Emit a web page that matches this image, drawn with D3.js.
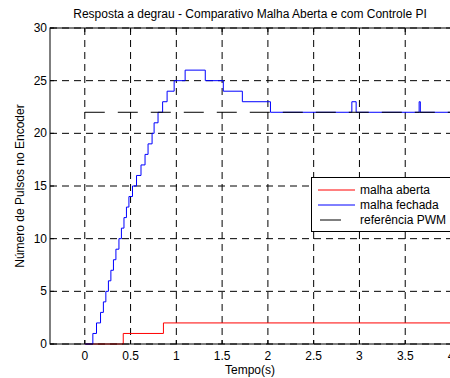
<!DOCTYPE html>
<html>
<head>
<meta charset="utf-8">
<script src="https://cdn.jsdelivr.net/npm/d3@7"></script>
<style>
  body { margin: 0; background: #fff; }
  svg { display: block; font-family: "Liberation Sans", Arial, sans-serif; }
</style>
</head>
<body>
<div id="container"></div>
<script>
const width = 450;
const height = 378;

// open loop response (step after)
const openT = [0, 0.42, 0.859, 4];
const openV = [0, 1, 2, 2];

// closed loop response with PI (step after)
const closedT = [0, 0.088, 0.128, 0.172, 0.203, 0.230, 0.258, 0.285, 0.313, 0.340, 0.373,
  0.400, 0.428, 0.455, 0.482, 0.521, 0.565, 0.614, 0.658, 0.691, 0.735,
  0.757, 0.800, 0.850, 0.899, 0.976, 1.096, 1.316, 1.513, 1.721, 2.028,
  2.917, 2.964, 3.652, 3.665, 4];
const closedV = [0, 1, 2, 3, 4, 5, 6, 7, 8, 9, 10,
  11, 12, 13, 14, 15, 16, 17, 18, 19, 20,
  21, 22, 23, 24, 25, 26, 25, 24, 23, 22,
  23, 22, 23, 22, 22];

// PWM reference
const refT = [0, 4];
const refV = [22, 22];

const xTicks = [0, 0.5, 1, 1.5, 2, 2.5, 3, 3.5, 4];
const yTicks = [0, 5, 10, 15, 20, 25, 30];

const series = [
  {name: 'malha aberta', t: openT, v: openV, color: '#ff0000', dash: null},
  {name: 'malha fechada', t: closedT, v: closedV, color: '#0000ff', dash: null},
  {name: 'referência PWM', t: refT, v: refV, color: '#000000', dash: '20,13'}
];

const margin = {left: 50, right: 451, top: 28, bottom: 344};
const fontSize = 12;

const x = d3.scaleLinear().domain([-0.38, 4]).range([margin.left, margin.right]);
const y = d3.scaleLinear().domain([0, 30]).range([margin.bottom, margin.top]);

const svg = d3.select('#container').append('svg')
  .attr('width', width)
  .attr('height', height);

svg.append('rect')
  .attr('x', margin.left).attr('y', margin.top)
  .attr('width', margin.right - margin.left)
  .attr('height', margin.bottom - margin.top)
  .attr('fill', '#fff');

// grid
const grid = svg.append('g')
  .attr('stroke', '#000')
  .attr('stroke-width', 1)
  .attr('stroke-dasharray', '7,5');

grid.selectAll('.vgrid')
  .data(xTicks)
  .join('line')
  .attr('x1', d => x(d)).attr('x2', d => x(d))
  .attr('y1', margin.top).attr('y2', margin.bottom);

grid.selectAll('.hgrid')
  .data(yTicks)
  .join('line')
  .attr('x1', margin.left).attr('x2', margin.right)
  .attr('y1', d => y(d)).attr('y2', d => y(d));

// data lines
const line = d3.line()
  .x(d => x(d[0]))
  .y(d => y(d[1]))
  .curve(d3.curveStepAfter);

svg.append('g')
  .selectAll('path')
  .data(series)
  .join('path')
  .attr('d', s => line(s.t.map((t, i) => [t, s.v[i]])))
  .attr('fill', 'none')
  .attr('stroke', s => s.color)
  .attr('stroke-width', 1)
  .attr('stroke-dasharray', s => s.dash);

// axes box
svg.append('rect')
  .attr('x', margin.left).attr('y', margin.top)
  .attr('width', margin.right - margin.left)
  .attr('height', margin.bottom - margin.top)
  .attr('fill', 'none')
  .attr('stroke', '#000');

// ticks inside
const tickLen = 4;
const ticks = svg.append('g').attr('stroke', '#000');
ticks.selectAll('.xb').data(xTicks).join('line')
  .attr('x1', d => x(d)).attr('x2', d => x(d))
  .attr('y1', margin.bottom).attr('y2', margin.bottom - tickLen);
ticks.selectAll('.xt').data(xTicks).join('line')
  .attr('x1', d => x(d)).attr('x2', d => x(d))
  .attr('y1', margin.top).attr('y2', margin.top + tickLen);
ticks.selectAll('.yl').data(yTicks).join('line')
  .attr('x1', margin.left).attr('x2', margin.left + tickLen)
  .attr('y1', d => y(d)).attr('y2', d => y(d));

// tick labels
svg.append('g')
  .attr('font-size', fontSize)
  .attr('text-anchor', 'middle')
  .selectAll('text')
  .data(xTicks)
  .join('text')
  .attr('x', d => x(d))
  .attr('y', margin.bottom + 16)
  .text(d => d);

svg.append('g')
  .attr('font-size', fontSize)
  .attr('text-anchor', 'end')
  .selectAll('text')
  .data(yTicks)
  .join('text')
  .attr('x', margin.left - 3)
  .attr('y', d => y(d) + 4)
  .text(d => d);

// labels
svg.append('text')
  .attr('x', 250).attr('y', 18)
  .attr('text-anchor', 'middle')
  .attr('font-size', fontSize)
  .text('Resposta a degrau - Comparativo Malha Aberta e com Controle PI');

svg.append('text')
  .attr('x', 250).attr('y', 374)
  .attr('text-anchor', 'middle')
  .attr('font-size', fontSize)
  .text('Tempo(s)');

svg.append('text')
  .attr('transform', 'translate(24,186) rotate(-90)')
  .attr('text-anchor', 'middle')
  .attr('font-size', fontSize)
  .text('Número de Pulsos no Encoder');

// legend
const legend = svg.append('g');
legend.append('rect')
  .attr('x', 311.5).attr('y', 177.5)
  .attr('width', 150).attr('height', 54)
  .attr('fill', '#fff')
  .attr('stroke', '#000');

const item = legend.selectAll('.item')
  .data(series)
  .join('g')
  .attr('transform', (d, i) => `translate(0,${190 + i * 15})`);

item.append('line')
  .attr('x1', d => d.dash ? 320 : 318).attr('x2', 355)
  .attr('stroke', d => d.color)
  .attr('stroke-dasharray', d => d.dash ? '21,16' : null);

item.append('text')
  .attr('x', 360).attr('y', 4)
  .attr('font-size', fontSize)
  .text(d => d.name);
</script>
</body>
</html>
